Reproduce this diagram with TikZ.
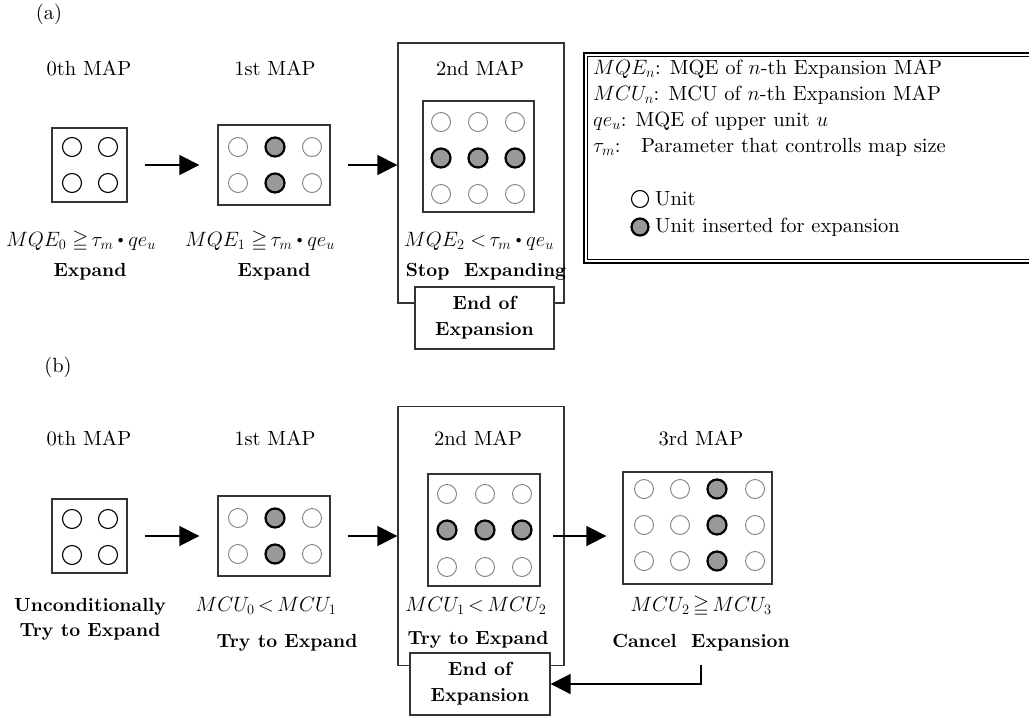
\documentclass[tikz,border=0pt]{standalone}
\usepackage{amssymb}
\usepackage{graphicx}
\usepackage{fontspec}
\setmainfont{lmroman10-regular}[Extension=.otf, BoldFont=lmroman10-bold, ItalicFont=lmroman10-italic, BoldItalicFont=lmroman10-bolditalic]
\usetikzlibrary{arrows.meta}
\newcommand\mdot{\mathbin{\raisebox{0.25ex}{\scalebox{0.55}{$\bullet$}}}}
\begin{document}
\begin{tikzpicture}[x=1pt,y=-1pt,
  mapbox/.style={draw=black!80, line width=1.4pt, inner sep=0pt},
  endbox/.style={draw=black!80, line width=1.3pt, fill=white, inner sep=0pt, align=center,
    font=\fontsize{19}{26}\selectfont\bfseries},
  unitc/.style={draw=black!50, line width=0.9pt},
  unitz/.style={draw=black, line width=1.1pt},
  ins/.style={draw=black, fill=black!40, line width=2.2pt},
  flow/.style={line width=1.8pt, -{Triangle[length=20pt,width=20pt]}},
  lbl/.style={inner sep=0pt, font=\fontsize{20.5}{24}\selectfont},
  bld/.style={inner sep=0pt, align=center, font=\fontsize{19}{25}\selectfont\bfseries},
  legout/.style={draw=black, line width=1.6pt},
  legin/.style={draw=black, line width=0.7pt}
]
\clip (0,0) rectangle (1029,718);

% ---------------- (a) ----------------
\node[lbl] (pa) at (49,14) {(a)};
\node[lbl] (t0a) at (89,68) {0th MAP};
\node[lbl] (t1a) at (275,68) {1st MAP};
\node[lbl] (t2a) at (480,68) {2nd MAP};

\node[mapbox, minimum width=75pt, minimum height=74pt] (m0a) at (89.5,165) {};
\foreach \x in {72,108} \foreach \y in {147,183} \draw[unitz] (\x,\y) circle (9.5pt);

\node[mapbox, minimum width=112pt, minimum height=80pt] (m1a) at (274,165) {};
\foreach \x in {238,312} \foreach \y in {147,183} \draw[unitc] (\x,\y) circle (9.5pt);
\foreach \y in {147,183} \draw[ins] (275,\y) circle (9.5pt);

\node[mapbox, minimum width=166pt, minimum height=260pt] (o2a) at (481,173) {};
\node[mapbox, minimum width=111pt, minimum height=111pt] (i2a) at (478.5,156.5) {};
\foreach \x in {441,478,515} {
  \draw[unitc] (\x,122) circle (9.5pt);
  \draw[ins] (\x,158) circle (9.5pt);
  \draw[unitc] (\x,194) circle (9.5pt);
}

\draw[flow] ([xshift=17pt]m0a.east) -- ([xshift=-18pt]m0a.east -| m1a.west);
\draw[flow] ([xshift=17pt]m1a.east) -- (m1a.east -| o2a.west);

\node[lbl] (f0a) at (81,241) {$MQE_0\;{\geqq}\,\tau_m\mdot qe_u$};
\node[lbl] (f1a) at (260,241) {$MQE_1\;{\geqq}\,\tau_m\mdot qe_u$};
\node[lbl] (f2a) at (479,241) {$MQE_2\;{<}\,\tau_m\mdot qe_u$};
\node[bld] (e0a) at (90,272) {Expand};
\node[bld] (e1a) at (274,272) {Expand};
\node[bld] (e2a) at (486,272) {Stop\ \ Expanding};

\node[endbox, minimum width=139pt, minimum height=62pt] (enda) at (484.5,318) {End of\\Expansion};

% legend
\draw[legout] (1040,53) -- (584,53) -- (584,263) -- (1040,263);
\draw[legin] (1040,56.5) -- (587.5,56.5) -- (587.5,259.5) -- (1040,259.5);
\node[lbl, anchor=west] (lg1) at (593,69) {$MQE_n$: MQE of $n$-th Expansion MAP};
\node[lbl, anchor=west] (lg2) at (593,95) {$MCU_n$: MCU of $n$-th Expansion MAP};
\node[lbl, anchor=west] (lg3) at (593,121) {$qe_u$: MQE of upper unit $u$};
\node[lbl, anchor=west] (lg4) at (593,147) {$\tau_m$:\quad Parameter that controlls map size};
\draw[unitz] (640,199) circle (8.5pt);
\node[lbl, anchor=west] (lg5) at (655,199) {Unit};
\draw[ins] (640,227) circle (8.5pt);
\node[lbl, anchor=west] (lg6) at (655,227) {Unit inserted for expansion};

% ---------------- (b) ----------------
\node[lbl] (pb) at (58,367) {(b)};
\node[lbl] (t0b) at (89,438) {0th MAP};
\node[lbl] (t1b) at (275,438) {1st MAP};
\node[lbl] (t2b) at (478,438) {2nd MAP};
\node[lbl] (t3b) at (701,438) {3rd MAP};

\node[mapbox, minimum width=75pt, minimum height=74pt] (m0b) at (89.5,536) {};
\foreach \x in {72,108} \foreach \y in {519,555} \draw[unitz] (\x,\y) circle (9.5pt);

\node[mapbox, minimum width=112pt, minimum height=80pt] (m1b) at (274,536) {};
\foreach \x in {238,312} \foreach \y in {518,554} \draw[unitc] (\x,\y) circle (9.5pt);
\foreach \y in {518,554} \draw[ins] (275,\y) circle (9.5pt);

\node[mapbox, minimum width=166pt, minimum height=259pt] (o2b) at (481,536) {};
\node[mapbox, minimum width=112pt, minimum height=112pt] (i2b) at (484,530) {};
\foreach \x in {447,485,522} {
  \draw[unitc] (\x,494) circle (9.5pt);
  \draw[ins] (\x,530) circle (9.5pt);
  \draw[unitc] (\x,567) circle (9.5pt);
}

\node[mapbox, minimum width=149pt, minimum height=112pt] (m3b) at (697.5,528) {};
\foreach \y in {489,525,561} {
  \draw[unitc] (644,\y) circle (9.5pt);
  \draw[unitc] (680,\y) circle (9.5pt);
  \draw[ins] (717,\y) circle (9.5pt);
  \draw[unitc] (755,\y) circle (9.5pt);
}

\draw[flow] ([xshift=17pt]m0b.east) -- ([xshift=-18pt]m0b.east -| m1b.west);
\draw[flow] ([xshift=17pt]m1b.east) -- (m1b.east -| o2b.west);
\draw[flow] (553,536) coordinate (a3s) -- ([xshift=-16pt]a3s -| m3b.west);

\node[bld] (e0b) at (90,619) {Unconditionally\\Try to Expand};
\node[lbl] (f1b) at (266,606) {$MCU_0\,{<}\,MCU_1$};
\node[bld] (e1b) at (287,643) {Try to Expand};
\node[lbl] (f2b) at (476,606) {$MCU_1\,{<}\,MCU_2$};
\node[bld] (e2b) at (478,640) {Try to Expand};
\node[lbl] (f3b) at (701,606) {$MCU_2\,{\geqq}\,MCU_3$};
\node[bld] (e3b) at (701,643) {Cancel\ \ Expansion};

\node[endbox, minimum width=140pt, minimum height=62pt] (endb) at (480,684) {End of\\Expansion};
\coordinate (ret) at (701,665);
\draw[flow] (ret) |- (endb.east);
\end{tikzpicture}
\end{document}
